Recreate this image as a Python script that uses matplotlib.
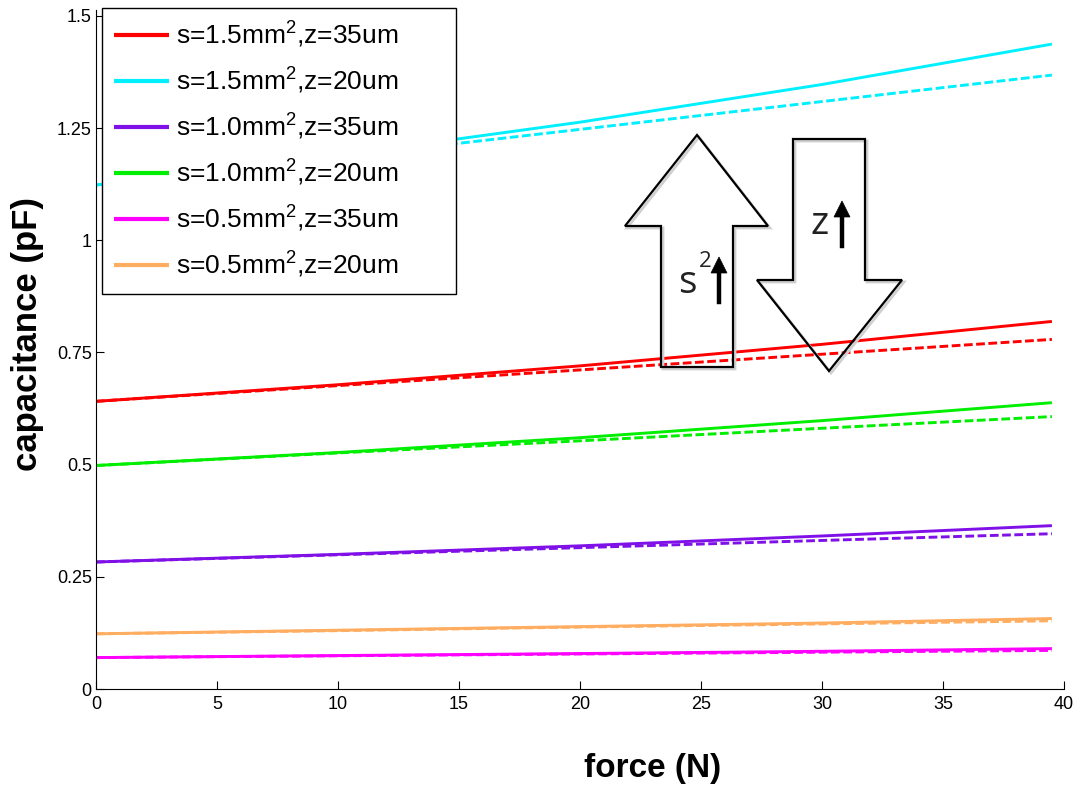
import matplotlib
matplotlib.use("Agg")
import matplotlib.pyplot as plt
from matplotlib.patches import Polygon, Rectangle

force = [0, 10, 20, 30, 39.5]
labels = ["s=1.5mm$^2$,z=35um", "s=1.5mm$^2$,z=20um", "s=1.0mm$^2$,z=35um",
          "s=1.0mm$^2$,z=20um", "s=0.5mm$^2$,z=35um", "s=0.5mm$^2$,z=20um"]
colors = ["#ff0000", "#00f0ff", "#8010e8", "#00ee00", "#ff00ff", "#ffad60"]
# solid (exact) curves
solid = [
    [0.641, 0.678, 0.720, 0.768, 0.819],
    [1.123, 1.189, 1.263, 1.347, 1.437],
    [0.283, 0.300, 0.319, 0.341, 0.364],
    [0.498, 0.527, 0.560, 0.598, 0.638],
    [0.070, 0.0745, 0.079, 0.084, 0.090],
    [0.123, 0.131, 0.139, 0.147, 0.157],
]
# dashed (linear approximation)
dashed = [
    [0.641, 0.676, 0.711, 0.746, 0.779],
    [1.123, 1.185, 1.247, 1.309, 1.368],
    [0.283, 0.299, 0.315, 0.331, 0.346],
    [0.498, 0.526, 0.553, 0.581, 0.607],
    [0.070, 0.074, 0.078, 0.082, 0.086],
    [0.123, 0.130, 0.138, 0.145, 0.152],
]
xticks = [0, 5, 10, 15, 20, 25, 30, 35, 40]
yticks = [0, 0.25, 0.5, 0.75, 1, 1.25, 1.5]
yticklabels = ["0", "0.25", "0.5", "0.75", "1", "1.25", "1.5"]

plt.rcParams["font.family"] = ["Liberation Sans", "DejaVu Sans"]
plt.rcParams["mathtext.fontset"] = "custom"
plt.rcParams["mathtext.rm"] = "Liberation Sans"
plt.rcParams["mathtext.it"] = "Liberation Sans"

W, H = 1076, 786
fig = plt.figure(figsize=(W / 100, H / 100), dpi=100)
ax = fig.add_axes([96 / W, 1 - 689 / H, (1064 - 96) / W, (689 - 10) / H])

for c, s, d, lab in zip(colors, solid, dashed, labels):
    ax.plot(force, s, color=c, lw=2.1, label=lab, solid_capstyle="butt")
    ax.plot(force, d, color=c, lw=2.1, linestyle=(0, (3, 1.2)))

ax.set_xlim(0, 40)
ax.set_ylim(0, 1.513)
ax.set_xticks(xticks)
ax.set_xticklabels([str(t) for t in xticks], fontsize=13)
ax.set_yticks(yticks)
ax.set_yticklabels(yticklabels, fontsize=13)
ax.tick_params(direction="in", length=6, width=0.8)
ax.tick_params(axis="x", pad=5)
ax.tick_params(axis="y", pad=3)
for sp in ["top", "right"]:
    ax.spines[sp].set_visible(False)
for sp in ["left", "bottom"]:
    ax.spines[sp].set_linewidth(0.8)

ax.set_xlabel("force (N)", fontsize=24, fontweight="bold")
ax.xaxis.set_label_coords(0.575, -0.094)
ax.set_ylabel("capacitance (pF)", fontsize=25, fontweight="bold")
ax.yaxis.set_label_coords(-0.054, 0.523)

# legend frame (wider than its content, as in the original)
frame = Rectangle((102 / W, 1 - 294 / H), (456 - 102) / W, (294 - 8) / H,
                  transform=fig.transFigure, facecolor="white", edgecolor="black",
                  lw=1.0, zorder=4.5, clip_on=False)
ax.add_patch(frame)

handles, labs = ax.get_legend_handles_labels()
leg = ax.legend(handles, labs, loc="upper left", bbox_to_anchor=(102 / W, 1 - 8 / H),
                bbox_transform=fig.transFigure, fontsize=19, frameon=False,
                handlelength=2.1, handletextpad=0.25,
                labelspacing=0.6, borderpad=0.45, borderaxespad=0)
leg.set_zorder(5)
for lh in leg.get_lines():
    lh.set_linewidth(3)


def px(x, y):
    return (x / W, 1 - y / H)


up = [px(697, 135), px(768, 226), px(733, 226), px(733, 367), px(661, 367), px(661, 226), px(625, 226)]
down = [px(793, 139), px(865, 139), px(865, 280), px(902, 280), px(829, 371), px(757, 280), px(793, 280)]
for pts in (up, down):
    shadow = Polygon([(x + 2 / W, y - 2 / H) for x, y in pts], closed=True, transform=fig.transFigure,
                     facecolor="none", edgecolor="#d0d0d0", lw=2.0, zorder=4)
    fig.add_artist(shadow)
    fig.add_artist(Polygon(pts, closed=True, transform=fig.transFigure, facecolor="none",
                           edgecolor="black", lw=1.6, zorder=5))

fig.text(*px(678, 283), "s", fontsize=28, ha="left", va="center", fontfamily="Open Sans", color="#222222")
fig.text(*px(699, 262), "2", fontsize=16, ha="left", va="center", fontfamily="Open Sans", color="#222222")
fig.text(*px(810, 224), "z", fontsize=28, ha="left", va="center", fontfamily="Open Sans", color="#222222")
for (x0, y0, y1) in ((719, 302, 257), (842, 246, 201)):
    fig.add_artist(plt.Line2D([x0 / W, x0 / W], [1 - y0 / H, 1 - (y1 + 12) / H], color="black", lw=3.2,
                              transform=fig.transFigure))
    fig.add_artist(Polygon([px(x0, y1), px(x0 - 8, y1 + 16), px(x0 + 8, y1 + 16)], closed=True,
                           transform=fig.transFigure, facecolor="black", edgecolor="black", lw=0.5))

fig.savefig("out.png", dpi=100)
